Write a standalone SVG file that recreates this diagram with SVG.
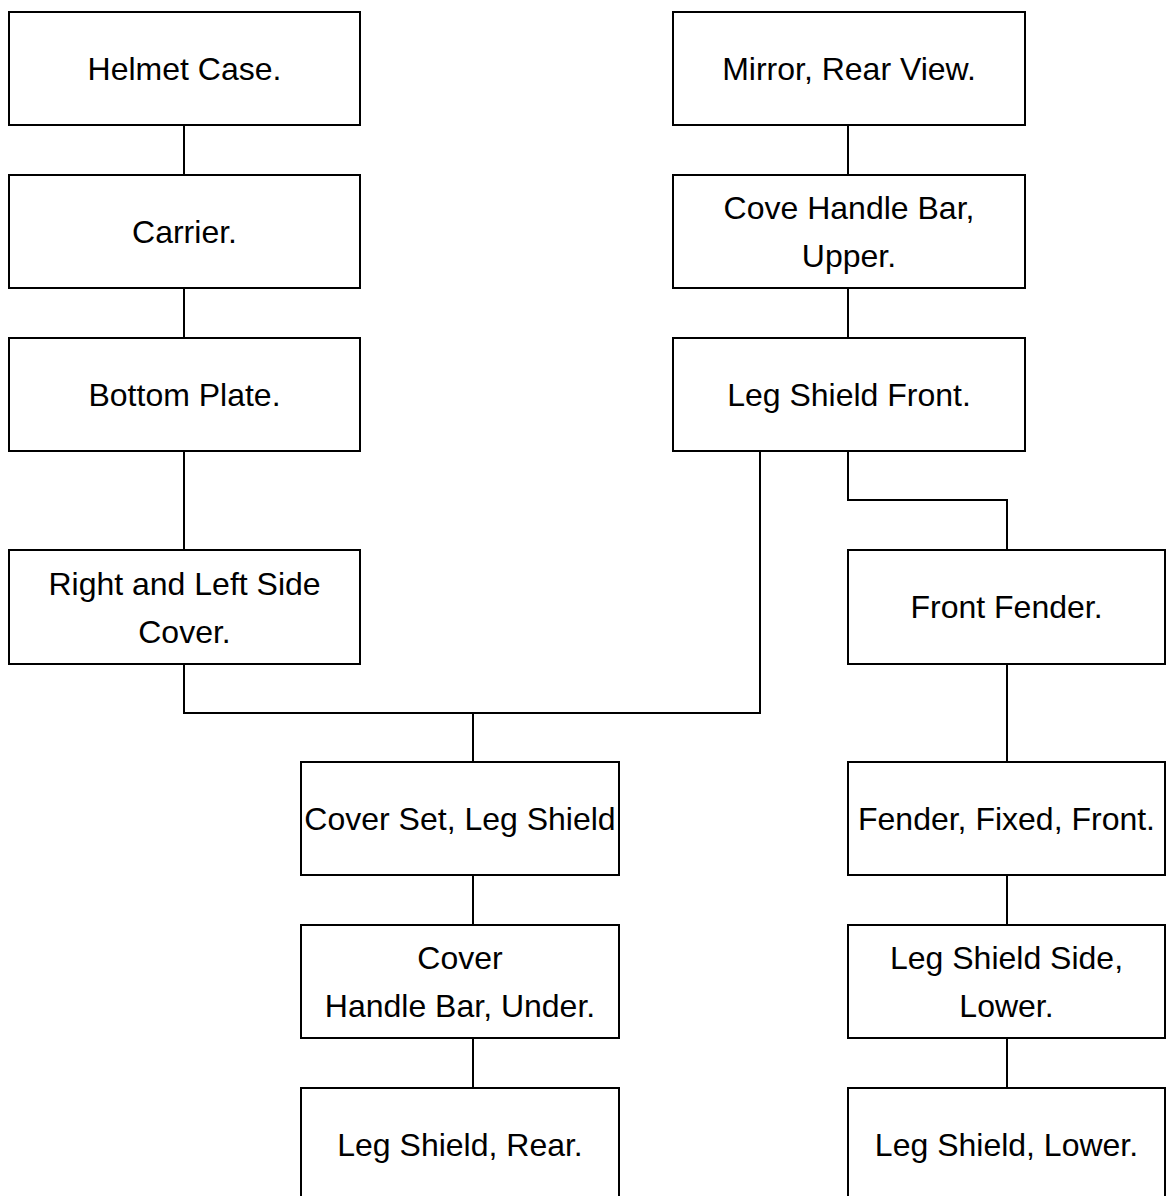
<svg xmlns="http://www.w3.org/2000/svg" width="1171" height="1196" viewBox="0 0 1171 1196">
<style>
.box{fill:#fff;stroke:#000;stroke-width:2}
.ln{fill:none;stroke:#000;stroke-width:2}
text{font-family:"Liberation Sans",Arial,sans-serif;font-size:32px;fill:#000;text-anchor:middle}
</style>
<rect width="1171" height="1196" fill="#fff"/>
<g id="connectors">
<path class="ln" d="M184 125V175"/>
<path class="ln" d="M184 288V338"/>
<path class="ln" d="M184 451V550"/>
<path class="ln" d="M848 125V175"/>
<path class="ln" d="M848 288V338"/>
<path class="ln" d="M760 451V713H184V664"/>
<path class="ln" d="M473 713V762"/>
<path class="ln" d="M848 451V500H1007V550"/>
<path class="ln" d="M1007 664V762"/>
<path class="ln" d="M1007 875V925"/>
<path class="ln" d="M1007 1038V1088"/>
<path class="ln" d="M473 875V925"/>
<path class="ln" d="M473 1038V1088"/>
</g>
<g id="helmet-case"><rect class="box" x="9" y="12" width="351" height="113"/><text x="184.5" y="80">Helmet Case.</text></g>
<g id="carrier"><rect class="box" x="9" y="175" width="351" height="113"/><text x="184.5" y="243">Carrier.</text></g>
<g id="bottom-plate"><rect class="box" x="9" y="338" width="351" height="113"/><text x="184.5" y="406">Bottom Plate.</text></g>
<g id="side-cover"><rect class="box" x="9" y="550" width="351" height="114"/><text x="184.5" y="595">Right and Left Side</text><text x="184.5" y="643">Cover.</text></g>
<g id="mirror"><rect class="box" x="673" y="12" width="352" height="113"/><text x="849" y="80">Mirror, Rear View.</text></g>
<g id="cove-handle-bar"><rect class="box" x="673" y="175" width="352" height="113"/><text x="849" y="219">Cove Handle Bar,</text><text x="849" y="267">Upper.</text></g>
<g id="leg-shield-front"><rect class="box" x="673" y="338" width="352" height="113"/><text x="849" y="406">Leg Shield Front.</text></g>
<g id="front-fender"><rect class="box" x="848" y="550" width="317" height="114"/><text x="1006.5" y="618">Front Fender.</text></g>
<g id="cover-set"><rect class="box" x="301" y="762" width="318" height="113"/><text x="460" y="830">Cover Set, Leg Shield</text></g>
<g id="cover-handle-bar-under"><rect class="box" x="301" y="925" width="318" height="113"/><text x="460" y="969">Cover</text><text x="460" y="1017">Handle Bar, Under.</text></g>
<g id="leg-shield-rear"><rect class="box" x="301" y="1088" width="318" height="113"/><text x="460" y="1156">Leg Shield, Rear.</text></g>
<g id="fender-fixed-front"><rect class="box" x="848" y="762" width="317" height="113"/><text x="1006.5" y="830">Fender, Fixed, Front.</text></g>
<g id="leg-shield-side-lower"><rect class="box" x="848" y="925" width="317" height="113"/><text x="1006.5" y="969">Leg Shield Side,</text><text x="1006.5" y="1017">Lower.</text></g>
<g id="leg-shield-lower"><rect class="box" x="848" y="1088" width="317" height="113"/><text x="1006.5" y="1156">Leg Shield, Lower.</text></g>
</svg>
